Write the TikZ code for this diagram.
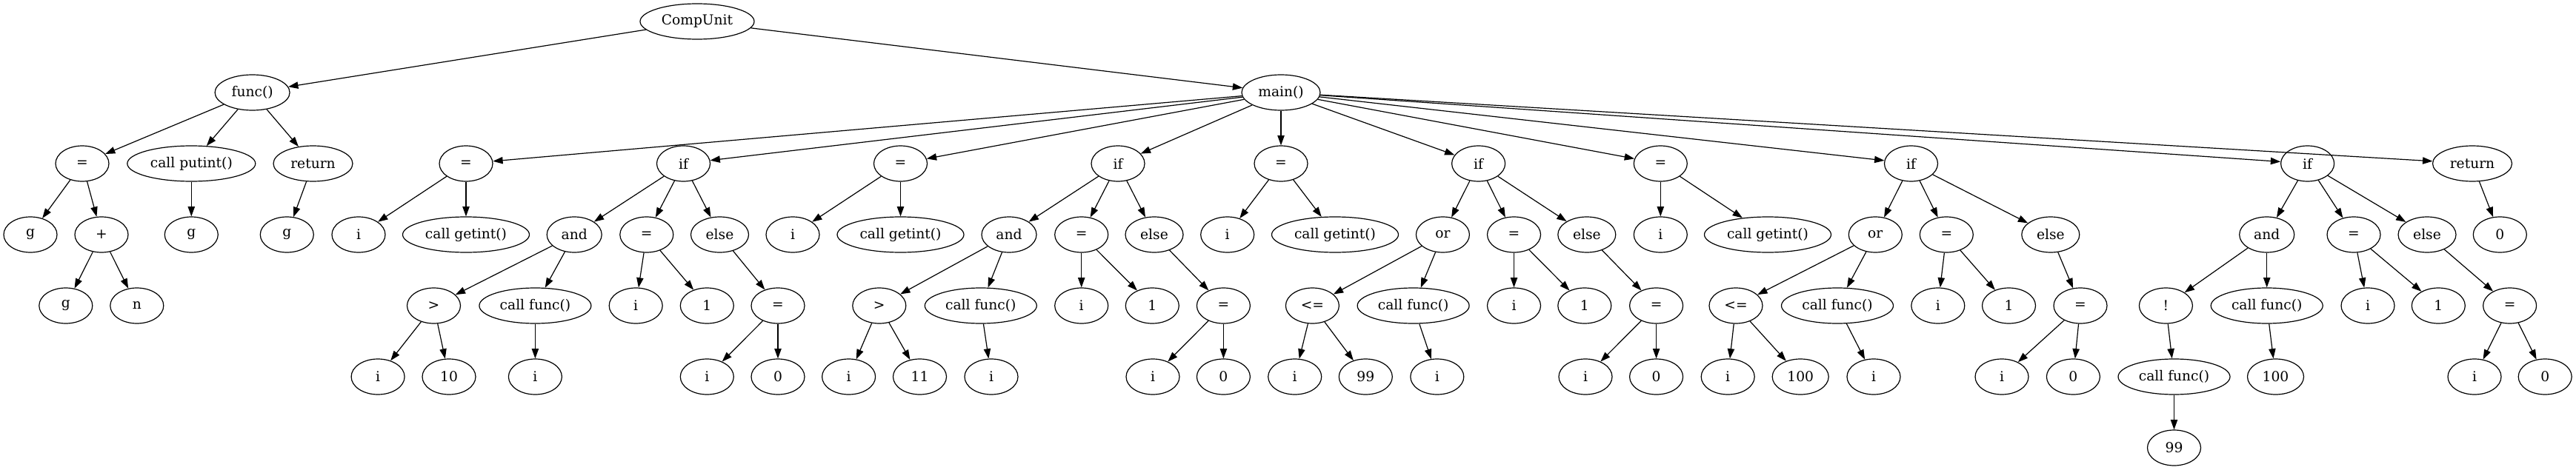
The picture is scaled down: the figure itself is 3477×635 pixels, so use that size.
\documentclass[tikz,border=0pt]{standalone}
\usepackage{fontspec}
\setmainfont{DejaVu Serif}
\usetikzlibrary{shapes.geometric,arrows.meta}
\tikzset{
  nd/.style={ellipse, draw, line width=0.9pt, minimum width=54pt, minimum height=36pt, inner sep=0pt, font=\fontsize{14pt}{16pt}\selectfont},
  wd/.style={minimum width=#1*0.75pt},
  edge/.style={draw, line width=0.9pt, -{Triangle[length=10pt,width=7pt]}}
}
\begin{document}
\begin{tikzpicture}[x=0.75pt,y=-0.75pt]
\useasboundingbox (0,0) rectangle (3477,635);
% rank 0
\node[nd, wd=154] (cu) at (941,29) {CompUnit};
% rank 1
\node[nd, wd=101] (fn) at (340.6,125) {func()};
\node[nd, wd=106] (mn) at (1729,125) {main()};
% rank 2
\node[nd] (fa) at (111,221) {=};
\node[nd, wd=173] (fp) at (258.3,221) {call putint()};
\node[nd, wd=107] (fr) at (422.5,221) {return};
\node[nd] (s1) at (629,221) {=};
\node[nd] (if1) at (922.5,221) {if};
\node[nd] (s2) at (1215.5,221) {=};
\node[nd] (if2) at (1509,221) {if};
\node[nd] (s3) at (1729,221) {=};
\node[nd] (if3) at (1995.6,221) {if};
\node[nd] (s4) at (2241.3,221) {=};
\node[nd] (if4) at (2579.5,221) {if};
\node[nd] (if5) at (3114.6,221) {if};
\node[nd, wd=107] (rt) at (3337,221) {return};
% rank 3
\node[nd] (fa1) at (41,317) {g};
\node[nd] (fa2) at (137,317) {+};
\node[nd] (fp1) at (258.3,317) {g};
\node[nd] (fr1) at (387.3,317) {g};
\node[nd] (s1a) at (484,317) {i};
\node[nd, wd=171] (s1b) at (629,317) {call getint()};
\node[nd, wd=74] (if1a) at (775.2,317) {and};
\node[nd] (if1b) at (872.8,317) {=};
\node[nd, wd=78] (if1c) at (971.5,317) {else};
\node[nd] (s2a) at (1070,317) {i};
\node[nd, wd=171] (s2b) at (1215.5,317) {call getint()};
\node[nd, wd=74] (if2a) at (1362,317) {and};
\node[nd] (if2b) at (1459.7,317) {=};
\node[nd, wd=78] (if2c) at (1558,317) {else};
\node[nd] (s3a) at (1656.7,317) {i};
\node[nd, wd=171] (s3b) at (1802,317) {call getint()};
\node[nd] (if3a) at (1947.4,317) {or};
\node[nd] (if3b) at (2043.5,317) {=};
\node[nd, wd=78] (if3c) at (2141.8,317) {else};
\node[nd] (s4a) at (2241.3,317) {i};
\node[nd, wd=171] (s4b) at (2386,317) {call getint()};
\node[nd] (if4a) at (2531.3,317) {or};
\node[nd] (if4b) at (2627.3,317) {=};
\node[nd, wd=78] (if4c) at (2767.8,317) {else};
\node[nd, wd=74] (if5a) at (3059.7,317) {and};
\node[nd] (if5b) at (3177,317) {=};
\node[nd, wd=78] (if5c) at (3276,317) {else};
\node[nd] (rt1) at (3374.3,317) {0};
% rank 4
\node[nd] (pa) at (88.8,413) {g};
\node[nd] (pb) at (184.8,413) {n};
\node[nd] (a1a) at (585.5,413) {>};
\node[nd, wd=151] (a1b) at (722.4,413) {call func()};
\node[nd] (e1a) at (858.2,413) {i};
\node[nd] (e1b) at (954.3,413) {1};
\node[nd] (l1a) at (1050,413) {=};
\node[nd] (a2a) at (1186.8,413) {>};
\node[nd, wd=151] (a2b) at (1323.8,413) {call func()};
\node[nd] (e2a) at (1459.7,413) {i};
\node[nd] (e2b) at (1555.3,413) {1};
\node[nd] (l2a) at (1651.4,413) {=};
\node[nd] (o3a) at (1771.4,413) {<=};
\node[nd, wd=151] (o3b) at (1907.6,413) {call func()};
\node[nd] (e3a) at (2043.5,413) {i};
\node[nd] (e3b) at (2138.8,413) {1};
\node[nd] (l3a) at (2235.6,413) {=};
\node[nd] (o4a) at (2343,413) {<=};
\node[nd, wd=151] (o4b) at (2480,413) {call func()};
\node[nd] (e4a) at (2615.8,413) {i};
\node[nd] (e4b) at (2711.5,413) {1};
\node[nd] (l4a) at (2808,413) {=};
\node[nd] (a5a) at (2923.4,413) {!};
\node[nd, wd=151] (a5b) at (3059.7,413) {call func()};
\node[nd] (e5a) at (3196,413) {i};
\node[nd] (e5b) at (3291.3,413) {1};
\node[nd] (l5a) at (3387.6,413) {=};
% rank 5
\node[nd] (g1a) at (510.1,509) {i};
\node[nd] (g1b) at (606,509) {10};
\node[nd] (c1a) at (722.4,509) {i};
\node[nd] (q1a) at (954.3,509) {i};
\node[nd] (q1b) at (1050,509) {0};
\node[nd] (g2a) at (1145.6,509) {i};
\node[nd] (g2b) at (1241.5,509) {11};
\node[nd] (c2a) at (1338,509) {i};
\node[nd] (q2a) at (1556,509) {i};
\node[nd] (q2b) at (1651.4,509) {0};
\node[nd] (g3a) at (1747.7,509) {i};
\node[nd] (g3b) at (1843.3,509) {99};
\node[nd] (c3a) at (1939.8,509) {i};
\node[nd] (q3a) at (2140,509) {i};
\node[nd] (q3b) at (2235.6,509) {0};
\node[nd] (g4a) at (2332.2,509) {i};
\node[nd, wd=76] (g4b) at (2430.2,509) {100};
\node[nd] (c4a) at (2529,509) {i};
\node[nd] (q4a) at (2702,509) {i};
\node[nd] (q4b) at (2798.4,509) {0};
\node[nd, wd=151] (n5a) at (2934.5,509) {call func()};
\node[nd, wd=76] (c5a) at (3071.5,509) {100};
\node[nd] (q5a) at (3340,509) {i};
\node[nd] (q5b) at (3435.2,509) {0};
% rank 6
\node[nd] (z) at (2934.5,605) {99};
% edges
\foreach \p/\c in {cu/fn, cu/mn,
  fn/fa, fn/fp, fn/fr,
  mn/s1, mn/if1, mn/s2, mn/if2, mn/s3, mn/if3, mn/s4, mn/if4, mn/if5, mn/rt,
  fa/fa1, fa/fa2, fp/fp1, fr/fr1, fa2/pa, fa2/pb,
  s1/s1a, s1/s1b, if1/if1a, if1/if1b, if1/if1c,
  s2/s2a, s2/s2b, if2/if2a, if2/if2b, if2/if2c,
  s3/s3a, s3/s3b, if3/if3a, if3/if3b, if3/if3c,
  s4/s4a, s4/s4b, if4/if4a, if4/if4b, if4/if4c,
  if5/if5a, if5/if5b, if5/if5c, rt/rt1,
  if1a/a1a, if1a/a1b, if1b/e1a, if1b/e1b, if1c/l1a,
  if2a/a2a, if2a/a2b, if2b/e2a, if2b/e2b, if2c/l2a,
  if3a/o3a, if3a/o3b, if3b/e3a, if3b/e3b, if3c/l3a,
  if4a/o4a, if4a/o4b, if4b/e4a, if4b/e4b, if4c/l4a,
  if5a/a5a, if5a/a5b, if5b/e5a, if5b/e5b, if5c/l5a,
  a1a/g1a, a1a/g1b, a1b/c1a, l1a/q1a, l1a/q1b,
  a2a/g2a, a2a/g2b, a2b/c2a, l2a/q2a, l2a/q2b,
  o3a/g3a, o3a/g3b, o3b/c3a, l3a/q3a, l3a/q3b,
  o4a/g4a, o4a/g4b, o4b/c4a, l4a/q4a, l4a/q4b,
  a5a/n5a, a5b/c5a, l5a/q5a, l5a/q5b, n5a/z}
  \draw[edge] (\p) -- (\c);
\end{tikzpicture}
\end{document}
